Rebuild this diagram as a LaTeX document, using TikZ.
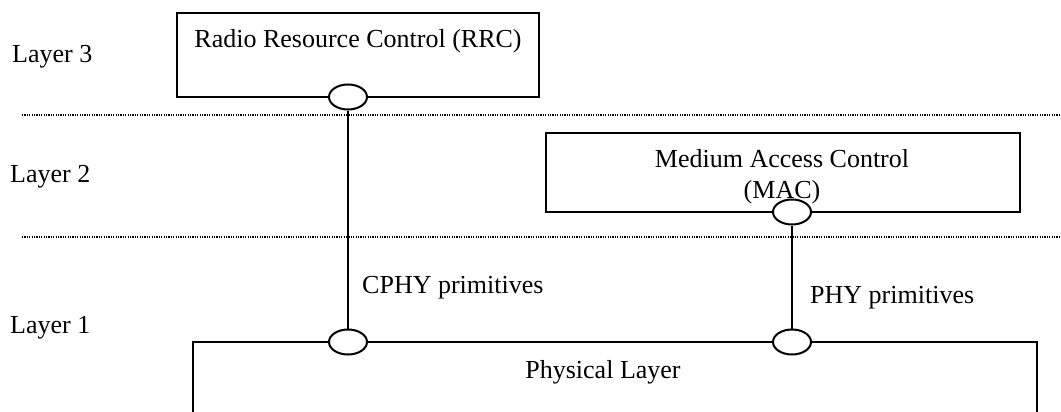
\documentclass[tikz,border=0pt]{standalone}
\usepackage{fontspec}
\setmainfont{Liberation Serif}
\usetikzlibrary{shapes.geometric}
\begin{document}
\begin{tikzpicture}[x=1pt,y=-1pt,
  box/.style={draw, line width=2pt, rectangle, inner sep=0pt},
  sap/.style={draw, line width=2pt, ellipse, fill=white, minimum width=38pt, minimum height=25pt, inner sep=0pt},
  lbl/.style={font=\fontsize{26}{31}\selectfont, inner sep=0pt},
  sep/.style={line width=1.2pt, dash pattern=on 1.2pt off 1.2pt},
  link/.style={line width=2pt}]
\useasboundingbox (0,0) rectangle (1061,412);
\clip (0,0) rectangle (1061,412);
% layer separators
\draw[sep] (22,115) -- (1061,115);
\draw[sep] (22,237) -- (1061,237);
% layer labels
\node[lbl, anchor=base west] (l3) at (12,63) {Layer 3};
\node[lbl, anchor=base west] (l2) at (10,182) {Layer 2};
\node[lbl, anchor=base west] (l1) at (10,333) {Layer 1};
% boxes
\node[box, minimum width=362pt, minimum height=84pt] (rrc) at (358,55) {};
\node[lbl, anchor=base] (rrct) at (358,48) {Radio Resource Control (RRC)};
\node[box, minimum width=474pt, minimum height=79pt] (mac) at (783,172.5) {};
\node[lbl, anchor=base] (mact1) at (782,167) {Medium Access Control};
\node[lbl, anchor=base] (mact2) at (782,198) {(MAC)};
\node[box, minimum width=844pt, minimum height=120pt] (phy) at (615,402) {};
\node[lbl, anchor=base] (phyt) at (603,378) {Physical Layer};
% service access points
\node[sap] (e1) at (348,97) {};
\node[sap] (e2) at (792,212) {};
\node[sap] (e3) at (348,342) {};
\node[sap] (e4) at (792,342) {};
% primitives
\draw[link] (e1.south) -- (e3.north);
\draw[link] (e2.south) -- (e4.north);
\node[lbl, anchor=base west] (cphy) at (362,293) {CPHY primitives};
\node[lbl, anchor=base west] (phyp) at (810,303) {PHY primitives};
\end{tikzpicture}
\end{document}
